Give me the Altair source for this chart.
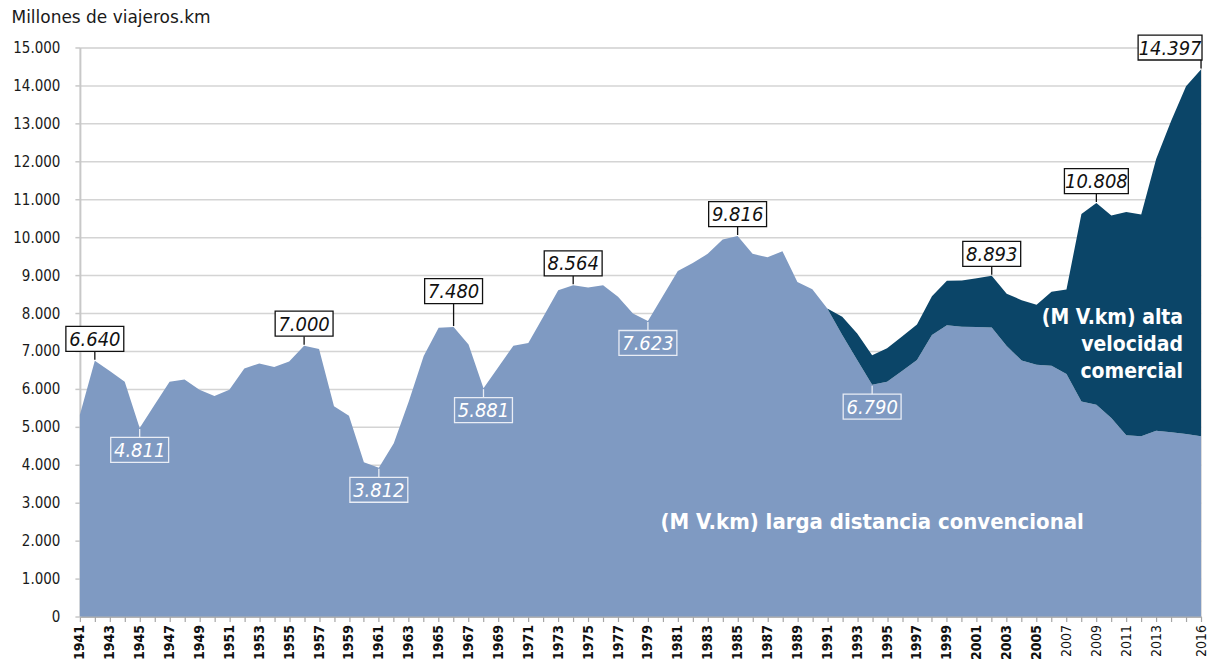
import altair as alt
import pandas as pd

# ---------------- data (millones de viajeros.km) ----------------
years = list(range(1941, 2017))
conv = [5320, 6740, 6470, 6190, 4970, 5580, 6190, 6250, 5980, 5810,
        5980, 6540, 6670, 6580, 6720, 7140, 7050, 5540, 5290, 4070,
        3920, 4570, 5670, 6870, 7610, 7630, 7170, 6020, 6580, 7140,
        7210, 7900, 8600, 8730, 8670, 8730, 8430, 7990, 7790, 8450,
        9110, 9320, 9560, 9940, 10030, 9560, 9470, 9630, 8820, 8630,
        8120, 7420, 6760, 6110, 6190, 6470, 6760, 7420, 7680, 7640,
        7630, 7620, 7130, 6750, 6640, 6610, 6390, 5670, 5580, 5230,
        4780, 4750, 4900, 4860, 4810, 4750]
av_years = list(range(1991, 2017))
av = [0, 480, 700, 780, 880, 910, 940, 1020, 1170, 1220,
      1290, 1360, 1380, 1590, 1580, 1950, 2230, 4940, 5320, 5340,
      5880, 5850, 7160, 8200, 9170, 9670]

label_years = [1942, 1945, 1956, 1961, 1966, 1968, 1974, 1979, 1985, 1994, 2002, 2009, 2016]
label_texts = ["6.640", "4.811", "7.000", "3.812", "7.480", "5.881", "8.564",
               "7.623", "9.816", "6.790", "8.893", "10.808", "14.397"]
label_side = ["top", "bottom", "top", "bottom", "top", "bottom", "top",
              "bottom", "top", "bottom", "top", "top", "top"]

LIGHT = "#7F9AC2"
DARK = "#0B4568"
FONT = "DejaVu Sans Condensed"

df = pd.DataFrame({"year": years, "conv": conv})
dav = pd.DataFrame({"year": av_years, "av": av}).merge(df, on="year")
dav["total"] = dav["conv"] + dav["av"]
total_by_year = dict(zip(df["year"], df["conv"]))
total_by_year.update(dict(zip(dav["year"], dav["total"])))
conv_by_year = dict(zip(df["year"], df["conv"]))

W, H = 1123, 570

x_enc = alt.X(
    "year:Q",
    scale=alt.Scale(domain=[1941, 2016], nice=False, zero=False),
    axis=alt.Axis(
        values=years, tickCount=500,
        labelExpr="((datum.value % 2 == 1) && datum.value <= 2013) || datum.value == 2016 ? toString(datum.value) : ''",
        labelAngle=-90, labelAlign="right", labelBaseline="middle",
        labelFont=FONT, labelFontSize=14, labelColor="#111",
        labelFontWeight={"condition": {"test": "datum.value >= 2006", "value": "normal"}, "value": "bold"},
        labelOverlap=False, labelFlush=False, labelPadding=3,
        grid=False, title=None, tickSize=5, tickColor="#A6A6A6", tickWidth=1.2,
        domainColor="#A6A6A6", domainWidth=1.5,
    ),
)

y_enc = alt.Y(
    "conv:Q",
    scale=alt.Scale(domain=[0, 15000], nice=False),
    axis=alt.Axis(
        values=list(range(0, 15001, 1000)), tickCount=500,
        labelExpr="replace(format(datum.value, ','), ',', '.')",
        labelFont=FONT, labelFontSize=15, labelColor="#1a1a1a", labelPadding=15,
        labelOverlap=False,
        title="Millones de viajeros.km", titleAngle=0, titleAlign="left",
        titleBaseline="top", titleX=-69, titleY=-38,
        titleFont="DejaVu Sans", titleFontSize=17, titleFontWeight="normal",
        titleColor="#1a1a1a",
        grid=True, gridColor="#D4D4D4", gridWidth=1.5,
        domainColor="#C8C8C8", domainWidth=2, tickColor="#C8C8C8", tickSize=5, tickWidth=1.5,
    ),
)

light = alt.Chart(df).mark_area(color=LIGHT, opacity=1).encode(x=x_enc, y=y_enc)

dark = alt.Chart(dav).mark_area(color=DARK, opacity=1).encode(
    x="year:Q", y="conv:Q", y2="total:Q"
)

layers = [light, dark]

for yr, txt, side in zip(label_years, label_texts, label_side):
    if side == "top":
        v = total_by_year[yr]
        center = -36 if txt == "7.480" else -22
        col, fill = "#111111", "white"
    else:
        v = conv_by_year[yr]
        center = 22
        col, fill = "#E9EDF5", None
    dx = -31 if txt == "14.397" else 0
    w = 6 * len(txt) + 28
    h = 25
    r = h / w
    shape = f"M-1,-{r:.4f}L1,-{r:.4f}L1,{r:.4f}L-1,{r:.4f}Z"
    d = pd.DataFrame({"year": [yr], "v": [v], "t": [txt]})
    base = alt.Chart(d).encode(x="year:Q", y="v:Q")
    if side == "top":
        y_from, y_to = center + h / 2, -1
    else:
        y_from, y_to = center - h / 2, 1
    rule = base.mark_rule(color=col, strokeWidth=1.3, yOffset=y_from, y2Offset=y_to).encode(y2="v:Q")
    box_kwargs = dict(shape=shape, size=w * w, stroke=col, strokeWidth=1.3,
                      strokeOpacity=1, yOffset=center, xOffset=dx)
    if fill:
        box = base.mark_point(filled=True, fill=fill, fillOpacity=1, opacity=1, **box_kwargs)
    else:
        box = base.mark_point(filled=False, fillOpacity=0, opacity=1, **box_kwargs)
    text = base.mark_text(font=FONT, fontSize=20, fontStyle="italic", color=col if side == "top" else "white",
                          baseline="middle", align="center", dy=center + 1, dx=dx).encode(text="t:N")
    layers += [rule, box, text]

conv_name = pd.DataFrame({"year": [1994], "v": [2500], "t": ["(M V.km) larga distancia convencional"]})
layers.append(alt.Chart(conv_name).mark_text(font=FONT, fontSize=22, fontWeight="bold", color="white",
                                              align="center", baseline="middle").encode(x="year:Q", y="v:Q", text="t:N"))
av_name = pd.DataFrame({"year": [2014.8], "v": [7860], "t": ["(M V.km) alta\nvelocidad\ncomercial"]})
layers.append(alt.Chart(av_name).mark_text(font=FONT, fontSize=21, fontWeight="bold", color="white",
                                            align="right", baseline="middle", lineBreak="\n", lineHeight=27)
              .encode(x="year:Q", y="v:Q", text="t:N"))

chart = alt.layer(*layers).properties(
    width=W, height=H,
    padding={"left": 3, "top": 0, "right": 0, "bottom": 0},
).configure_view(stroke=None).configure(background="white").configure_axis(labelOverlap=False)

chart.save("out.html", embed_options={"renderer": "svg", "actions": False})
